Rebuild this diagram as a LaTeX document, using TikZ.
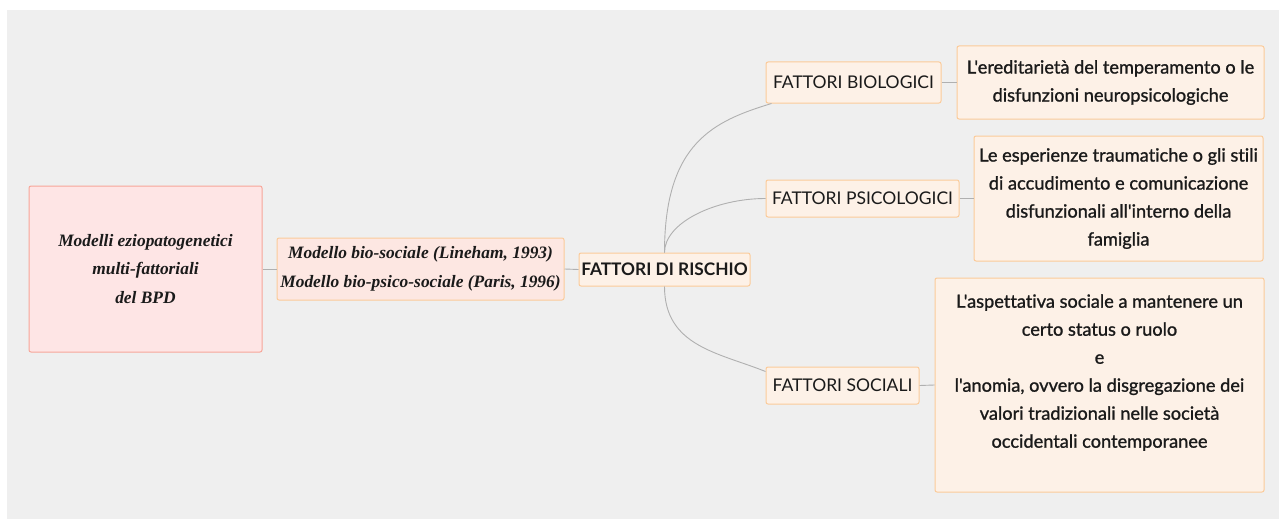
\documentclass[tikz,border=0pt]{standalone}
\usepackage{fontspec}
\usetikzlibrary{calc}
\newfontfamily\tnr{Liberation Serif}
\newfontfamily\lato{Lato}[Ligatures=CommonOff]
\newfontfamily\latomed{Lato}[FakeBold=1.2,Ligatures=CommonOff]
\definecolor{bg}{HTML}{EFEFEF}
\definecolor{rootfill}{HTML}{FEE5E5}
\definecolor{rootline}{HTML}{F7A699}
\definecolor{modfill}{HTML}{FDE7E2}
\definecolor{peach}{HTML}{FDF1E7}
\definecolor{peachline}{HTML}{FBCB9A}
\definecolor{conn}{HTML}{B0B0B0}
\definecolor{ink}{HTML}{1A1A1A}
\tikzset{
  box/.style={draw=peachline, fill=peach, line width=1pt, rounded corners=2pt, inner sep=0pt, text=ink, align=center},
  serifbox/.style={box, font=\tnr\bfseries\itshape\fontsize{17.4}{28.5}\selectfont},
  labelbox/.style={box, font=\lato\fontsize{17.5}{20}\selectfont},
  detailbox/.style={box, font=\latomed\fontsize{18.2}{28}\selectfont},
  link/.style={draw=conn, line width=0.9pt}
}
\begin{document}
\begin{tikzpicture}[x=1pt,y=-1pt]
\useasboundingbox (0,0) rectangle (1279,519);
\fill[white] (0,0) rectangle (1279,519);
\fill[bg] (7,10) rectangle (1279,519);

\node[serifbox, fill=rootfill, draw=rootline, minimum width=233pt, minimum height=166pt] (root) at (145.5,269) {Modelli eziopatogenetici\\multi-fattoriali\\del BPD};
\node[serifbox, fill=modfill, minimum width=287pt, minimum height=62pt] (model) at (420.5,269) {Modello bio-sociale (Lineham, 1993)\\Modello bio-psico-sociale (Paris, 1996)};
\node[labelbox, font=\lato\bfseries\fontsize{17.3}{20}\selectfont, minimum width=171pt, minimum height=33pt] (risk) at (664.5,269.5) {FATTORI DI RISCHIO};
\node[labelbox, minimum width=175pt, minimum height=41pt] (bio) at (853.5,82.5) {FATTORI BIOLOGICI};
\node[labelbox, minimum width=193pt, minimum height=37pt] (psico) at (862.5,198.5) {FATTORI PSICOLOGICI};
\node[labelbox, minimum width=153pt, minimum height=37pt] (soc) at (842.5,385.5) {FATTORI SOCIALI};
\node[detailbox, minimum width=307pt, minimum height=73pt] (biod) at (1110.5,82.5) {L'ereditarietà del temperamento o le\\disfunzioni neuropsicologiche};
\node[detailbox, minimum width=289pt, minimum height=125pt] (psid) at (1118.5,198.5) {Le esperienze traumatiche o gli stili\\di accudimento e comunicazione\\disfunzionali all'interno della\\famiglia};
\node[detailbox, minimum width=329pt, minimum height=214pt] (socd) at (1099.5,385) {L'aspettativa sociale a mantenere un\\certo status o ruolo\\e\\l'anomia, ovvero la disgregazione dei\\valori tradizionali nelle società\\occidentali contemporanee\\\mbox{}};

\draw[link] (root.east) -- (model.west);
\draw[link] (model.east) -- (risk.west);
\draw[link] (bio.east) -- (biod.west);
\draw[link] (psico.east) -- (psid.west);
\draw[link] (soc.east) -- (socd.west);
\draw[link] (risk.north) .. controls +(0,-110) and +(-57.4,17.5) .. ([xshift=6pt]bio.south west);
\draw[link] (risk.north) .. controls +(0,-30) and +(-50,0) .. (psico.west);
\draw[link] (risk.south) .. controls +(0,60) and +(-46.4,-18.7) .. ($(soc.north west)+(0,5)$);
\end{tikzpicture}
\end{document}
